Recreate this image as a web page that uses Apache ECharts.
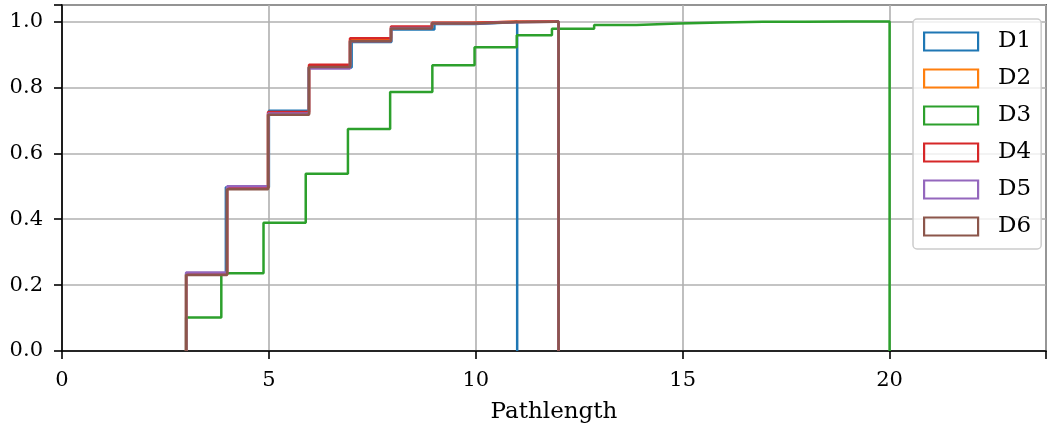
<!DOCTYPE html>
<html>
<head>
<meta charset="utf-8">
<script src="https://cdn.jsdelivr.net/npm/echarts@6/dist/echarts.min.js"></script>
<style>
  html, body { margin: 0; padding: 0; background: #fff; }
  #chart { width: 1047px; height: 430px; }
</style>
</head>
<body>
<div id="chart"></div>
<script>
  // bin edges (only where the cumulative value changes) and cumulative fractions
  var names = ['D1', 'D2', 'D3', 'D4', 'D5', 'D6'];
  var colors = ['#1f77b4', '#ff7f0e', '#2ca02c', '#d62728', '#9467bd', '#8c564b'];

  var edgesD1 = [3, 3.96, 5.0, 5.96, 7.0, 7.96, 9.0, 9.96, 10.92, 11];
  var edges12 = [3, 3.99, 4.98, 5.97, 6.96, 7.95, 8.94, 9.93, 10.92, 11.91, 12];
  var edgesD3 = [3, 3.85, 4.87, 5.89, 6.91, 7.93, 8.95, 9.97, 10.99, 11.84, 12.86,
                 13.88, 14.90, 15.92, 16.94, 17.96, 18.98, 19.83, 20];

  var valsD1 = [0.235, 0.497, 0.729, 0.860, 0.938, 0.976, 0.992, 0.998, 1.0];
  var valsD2 = [0.232, 0.494, 0.720, 0.864, 0.944, 0.981, 0.995, 0.999, 1.0, 1.0];
  var valsD3 = [0.102, 0.236, 0.389, 0.538, 0.674, 0.786, 0.867, 0.922, 0.958, 0.978,
                0.989, 0.994, 0.997, 0.999, 0.9995, 0.9998, 0.9999, 1.0];
  var valsD4 = [0.233, 0.495, 0.725, 0.869, 0.949, 0.985, 0.996, 0.999, 1.0, 1.0];
  var valsD5 = [0.238, 0.500, 0.721, 0.857, 0.940, 0.980, 0.994, 0.998, 0.999, 1.0];
  var valsD6 = [0.231, 0.491, 0.717, 0.862, 0.940, 0.979, 0.994, 0.998, 0.999, 1.0];

  var xTicks = [0, 5, 10, 15, 20];
  var yTicks = [0, 0.2, 0.4, 0.6, 0.8, 1.0];

  var edges = [edgesD1, edges12, edgesD3, edges12, edges12, edges12];
  var vals = [valsD1, valsD2, valsD3, valsD4, valsD5, valsD6];

  // step outline like a histtype='step' histogram
  function stepPoints(e, v) {
    var pts = [[e[0], 0]];
    for (var i = 0; i < v.length; i++) {
      pts.push([e[i], v[i]]);
      pts.push([e[i + 1], v[i]]);
    }
    pts.push([e[e.length - 1], 0]);
    return pts;
  }

  var font = 'DejaVu Serif';
  var chart = echarts.init(document.getElementById('chart'));

  var series = names.map(function (n, i) {
    return {
      name: n,
      type: 'line',
      data: stepPoints(edges[i], vals[i]),
      showSymbol: false,
      symbol: 'none',
      lineStyle: { color: colors[i], width: 2.5 },
      itemStyle: { color: colors[i] },
      z: 3
    };
  });

  chart.setOption({
    animation: false,
    grid: {
      left: 62, right: 1, top: 5, bottom: 79,
      outerBoundsMode: 'none',
      show: true, borderColor: '#000', borderWidth: 1.6
    },
    legend: {
      left: 913, top: 19,
      orient: 'vertical',
      itemWidth: 54, itemHeight: 18, itemGap: 14,
      padding: [11, 10, 11, 10],
      backgroundColor: 'rgba(255,255,255,0.8)',
      borderColor: '#cccccc', borderWidth: 1.5, borderRadius: 4,
      textStyle: { fontFamily: font, fontSize: 23, color: '#000', padding: [0, 0, 0, 15] },
      data: names.map(function (n, i) {
        return {
          name: n, icon: 'rect',
          itemStyle: { color: 'rgba(255,255,255,0)', borderColor: colors[i], borderWidth: 2.2 }
        };
      })
    },
    xAxis: {
      type: 'value', min: 0, max: 23.78, interval: 5,
      name: 'Pathlength', nameLocation: 'middle', nameGap: 50,
      nameTextStyle: { fontFamily: font, fontSize: 23, color: '#000' },
      axisLine: { onZero: false, lineStyle: { color: '#000', width: 1.6 } },
      axisTick: { show: true, length: 8, lineStyle: { color: '#000', width: 1.6 } },
      axisLabel: {
        fontFamily: font, fontSize: 21, color: '#000', margin: 19,
        formatter: function (v) { return xTicks.indexOf(v) >= 0 ? String(v) : ''; }
      },
      splitLine: { show: true, lineStyle: { color: '#b0b0b0', width: 1.6 } }
    },
    yAxis: {
      type: 'value', min: 0, max: 1.05, interval: 0.2,
      axisLine: { show: true, lineStyle: { color: '#000', width: 1.6 } },
      axisTick: { show: true, length: 8, lineStyle: { color: '#000', width: 1.6 } },
      axisLabel: {
        fontFamily: font, fontSize: 21, color: '#000', margin: 19,
        formatter: function (v) {
          return yTicks.some(function (t) { return Math.abs(t - v) < 1e-6; }) ? v.toFixed(1) : '';
        }
      },
      splitLine: { show: true, lineStyle: { color: '#b0b0b0', width: 1.6 } }
    },
    series: series
  });
</script>
</body>
</html>
